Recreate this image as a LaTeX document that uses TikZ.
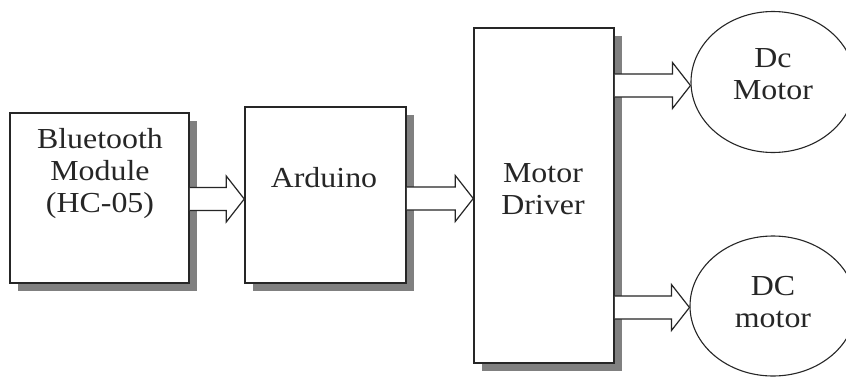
\documentclass[tikz,border=0pt]{standalone}
\usepackage{fontspec}
\setmainfont{Liberation Serif}[FakeStretch=1.1]
\usetikzlibrary{shapes.geometric,shadows,calc}
\newcommand\blockarr[3]{%
  \draw[barrow] let \p1=(#1 |- 0,#3), \p2=(#2 |- 0,#3) in
    (\x1,{\y1+11.5pt}) -- ({\x2-18pt},{\y1+11.5pt}) -- ({\x2-18pt},{\y1+23pt})
    -- (\x2,\y1) -- ({\x2-18pt},{\y1-23pt}) -- ({\x2-18pt},{\y1-11.5pt})
    -- (\x1,{\y1-11.5pt});}
\begin{document}
\begin{tikzpicture}[x=1pt,y=-1pt,
  box/.style={draw=black!85, line width=1.5pt, fill=white, rectangle, inner sep=0pt,
    drop shadow={shadow xshift=8pt, shadow yshift=-8pt, fill=black!50, opacity=1}},
  motor/.style={draw=black!85, line width=1.1pt, fill=white, ellipse, inner sep=0pt},
  txt/.style={font=\fontsize{29}{32}\selectfont, align=center, text=black!85, inner sep=0pt},
  barrow/.style={draw=black!85, line width=1.2pt, fill=white, line join=miter}]
\clip (0,0) rectangle (846,378);
\fill[white] (0,0) rectangle (846,378);
\node[box, minimum width=179pt, minimum height=170pt] (bt) at (99.5,198) {};
\node[txt] (btt) at (100,174) {Bluetooth\\Module\\(HC-05)};
\node[box, minimum width=161pt, minimum height=176pt] (ard) at (325.5,195) {};
\node[txt] (ardt) at (324,178) {Arduino};
\node[box, minimum width=140pt, minimum height=335pt] (md) at (544,195.5) {};
\node[txt] (mdt) at (543,189) {Motor\\Driver};
\node[motor, minimum width=164pt, minimum height=141pt] (m1) at (773,82) {};
\node[txt] (m1t) at (773,74) {Dc\\Motor};
\node[motor, minimum width=166pt, minimum height=140pt] (m2) at (773,306) {};
\node[txt] (m2t) at (773,302.5) {DC\\motor};
\blockarr{bt.east}{ard.west}{199}
\blockarr{ard.east}{md.west}{198.5}
\blockarr{md.east}{m1.west}{85.5}
\blockarr{md.east}{m2.west}{307.5}
\end{tikzpicture}
\end{document}
